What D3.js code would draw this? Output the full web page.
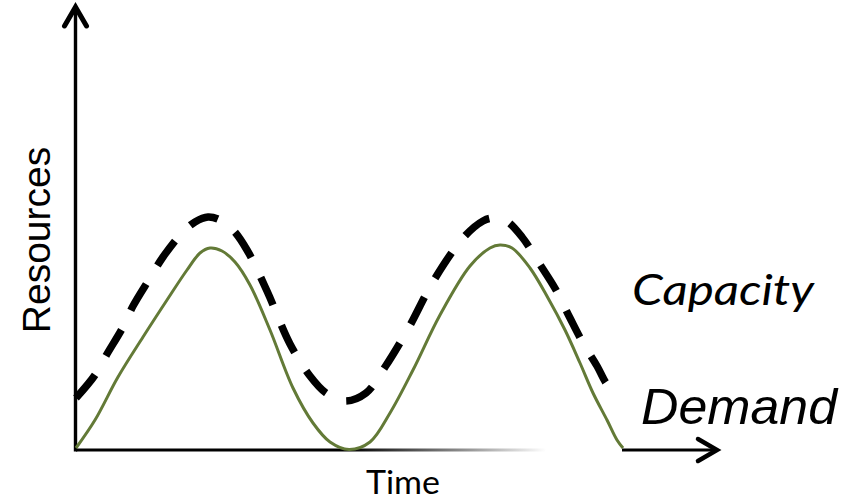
<!DOCTYPE html>
<html>
<head>
<meta charset="utf-8">
<script src="https://cdn.jsdelivr.net/npm/d3@7"></script>
<style>
  html, body { margin: 0; padding: 0; background: #fff; }
  svg { display: block; }
</style>
</head>
<body>
<svg id="chart" width="857" height="502"></svg>
<script>
// ---- data (abstract units) ----
const demandTime = [0,19,42,67,91,111,124,134,146,159,174,194,217,237,254,273,294,314,337,364,394,414,424,436,454,472,489,504,517,531,541,547];
const demandValue = [2,30,73,113,150,180,197,202,199,188,165,120,62,27,8,0.5,8,37,80,135,184,202,205,202,182,152,120,87,57,30,10,2];
const capacityTime = [0,19,31,47,57,74,87,106,119,132,144,157,171,191,214,234,250,269,290,309,332,358,388,407,417,429,446,463,480,494,507,521,530,536];
const capacityValue = [52,75,96,123,144,172,193,217,228,233,230,220,200,159,106,74,57,49,57,83,121,170,213,229,232,230,213,187,160,132,107,84,67,60];
const axisLabels = { x: "Time", y: "Resources" };
const seriesLabels = ["Capacity", "Demand"];

// ---- scales ----
const svg = d3.select("#chart");
const x = d3.scaleLinear().domain([0, 644]).range([76, 720]);
const y = d3.scaleLinear().domain([0, 440]).range([450, 10]);

const defs = svg.append("defs");
const grad = defs.append("linearGradient")
  .attr("id", "axisFade").attr("gradientUnits", "userSpaceOnUse")
  .attr("x1", x(0)).attr("x2", x(470)).attr("y1", 0).attr("y2", 0);
grad.append("stop").attr("offset", "0").attr("stop-color", "#000");
grad.append("stop").attr("offset", "0.58").attr("stop-color", "#000");
grad.append("stop").attr("offset", "0.84").attr("stop-color", "#999");
grad.append("stop").attr("offset", "1").attr("stop-color", "#fff");

// ---- axes ----
svg.append("line")
  .attr("x1", x(0)).attr("x2", x(470)).attr("y1", y(0)).attr("y2", y(0))
  .attr("stroke", "url(#axisFade)").attr("stroke-width", 3);
svg.append("line")
  .attr("x1", x(546)).attr("x2", x(641)).attr("y1", y(0)).attr("y2", y(0))
  .attr("stroke", "#000").attr("stroke-width", 3.2);
svg.append("path")
  .attr("d", `M${x(622)},${y(0)-11} L${x(641)},${y(0)} L${x(622)},${y(0)+11}`)
  .attr("fill", "none").attr("stroke", "#000").attr("stroke-width", 4.5)
  .attr("stroke-linecap", "round").attr("stroke-linejoin", "miter");

svg.append("line")
  .attr("x1", x(0) - 0.5).attr("x2", x(0) - 0.5).attr("y1", y(0) + 1.5).attr("y2", 8)
  .attr("stroke", "#000").attr("stroke-width", 3.4);
svg.append("path")
  .attr("d", `M${x(0)-11.5},26 L${x(0)-0.5},7 L${x(0)+10.5},26`)
  .attr("fill", "none").attr("stroke", "#000").attr("stroke-width", 5)
  .attr("stroke-linecap", "round").attr("stroke-linejoin", "miter");

// ---- series ----
const line = d3.line().x(d => x(d[0])).y(d => y(d[1])).curve(d3.curveCatmullRom.alpha(0.5));

svg.append("path")
  .datum(demandTime.map((t, i) => [t, demandValue[i]]))
  .attr("d", line)
  .attr("fill", "none").attr("stroke", "#637a37").attr("stroke-width", 3);

svg.append("path")
  .datum(capacityTime.map((t, i) => [t, capacityValue[i]]))
  .attr("d", line)
  .attr("fill", "none").attr("stroke", "#000").attr("stroke-width", 7.5)
  .attr("stroke-dasharray", "30,22");

// ---- labels ----
svg.append("text")
  .attr("transform", "translate(50,240) rotate(-90)")
  .attr("text-anchor", "middle")
  .attr("font-family", "'Liberation Sans', Arial, sans-serif")
  .attr("font-size", 39)
  .attr("fill", "#000")
  .text(axisLabels.y);

svg.append("text")
  .attr("x", 366).attr("y", 494)
  .attr("font-family", "Lato, 'Open Sans', sans-serif")
  .attr("font-size", 33)
  .attr("textLength", 74).attr("lengthAdjust", "spacingAndGlyphs")
  .attr("fill", "#000")
  .text(axisLabels.x);

svg.append("text")
  .attr("x", 632).attr("y", 305)
  .attr("font-family", "Lato, 'Open Sans', sans-serif")
  .attr("font-style", "italic")
  .attr("font-size", 43)
  .attr("textLength", 182).attr("lengthAdjust", "spacingAndGlyphs")
  .attr("fill", "#000")
  .text(seriesLabels[0]);

svg.append("text")
  .attr("x", 641).attr("y", 424)
  .attr("font-family", "'Liberation Sans', Arial, sans-serif")
  .attr("font-style", "italic")
  .attr("font-size", 50)
  .attr("textLength", 196).attr("lengthAdjust", "spacingAndGlyphs")
  .attr("fill", "#000")
  .text(seriesLabels[1]);
</script>
</body>
</html>
